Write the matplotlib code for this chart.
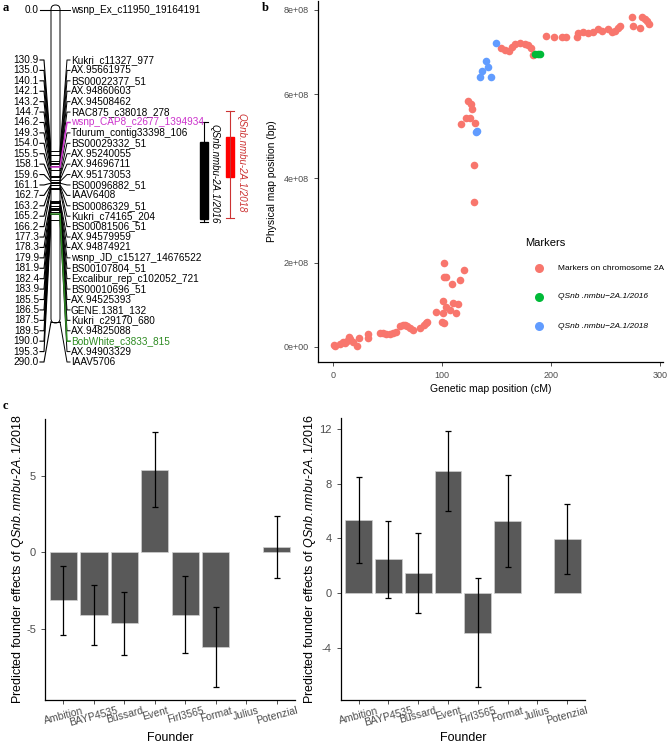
import numpy as np
import matplotlib.pyplot as plt
from matplotlib.lines import Line2D
from matplotlib.patches import FancyBboxPatch, Rectangle

plt.rcParams['font.family'] = ['Liberation Sans', 'DejaVu Sans']
plt.rcParams['mathtext.fontset'] = 'custom'
plt.rcParams['mathtext.rm'] = 'Liberation Sans'
plt.rcParams['mathtext.it'] = 'Liberation Sans:italic'
plt.rcParams['axes.unicode_minus'] = False

W, H = 667, 744

# ---- panel a: linkage map of chromosome 2A ----
marker_pos = [0.0, 130.9, 135.0, 140.1, 142.1, 143.2, 144.7, 146.2, 149.3, 154.0,
              155.5, 158.1, 159.6, 161.1, 162.7, 163.2, 165.2, 166.2, 177.3, 178.3,
              179.9, 181.9, 182.4, 183.9, 185.5, 186.5, 187.5, 189.5, 190.0, 195.3,
              290.0]
marker_names = ["wsnp_Ex_c11950_19164191", "Kukri_c11327_977", "AX.95661975",
                "BS00022377_51", "AX.94860603", "AX.94508462", "RAC875_c38018_278",
                "wsnp_CAP8_c2677_1394934", "Tdurum_contig33398_106", "BS00029332_51",
                "AX.95240055", "AX.94696711", "AX.95173053", "BS00096882_51", "IAAV6408",
                "BS00086329_51", "Kukri_c74165_204", "BS00081506_51", "AX.94579959",
                "AX.94874921", "wsnp_JD_c15127_14676522", "BS00107804_51",
                "Excalibur_rep_c102052_721", "BS00010696_51", "AX.94525393",
                "GENE.1381_132", "Kukri_c29170_680", "AX.94825088", "BobWhite_c3833_815",
                "AX.94903329", "IAAV5706"]
marker_colors = {"wsnp_CAP8_c2677_1394934": "#CC33CC", "BobWhite_c3833_815": "#2E8B22"}
qtl_names = ["QSnb.nmbu-2A.1/2016", "QSnb.nmbu-2A.1/2018"]
qtl_outer = [(104.2, 197.2), (94.0, 193.5)]
qtl_inner = [(122.8, 194.4), (118.1, 155.3)]
qtl_colors = [("black", "black", "black"), ("#FF0000", "#CC3333", "#CC3333")]

# ---- panel b: genetic vs physical position ----
chr_cm = [1, 2, 6, 9, 11, 13, 15, 16, 18.5, 21.7, 24, 32, 32, 43, 46, 49, 52, 55, 58,
          61.5, 64, 66, 68, 70.6, 73, 80, 83, 85, 86, 94.5, 99.7, 101, 101, 102, 104,
          107, 110, 113, 115, 101.5, 102, 104, 109.5, 116.5, 120, 129, 129, 117.7,
          121.7, 125.7, 130, 124, 126.6, 127.8, 153.8, 157.8, 161, 164, 167, 171.5,
          176, 179, 182, 183.8, 195, 203, 210, 214, 223.5, 225, 229.7, 234, 238.6,
          243.4, 247, 252.6, 255.7, 258.5, 261.8, 263, 274, 275.5, 281.6, 283, 286,
          287.8, 289.4]
chr_bp = [0.5e7, 0.3e7, 0.7e7, 1.1e7, 0.9e7, 1.5e7, 2.3e7, 2.0e7, 1.3e7, 0.2e7,
          2.1e7, 3.1e7, 2.1e7, 3.4e7, 3.3e7, 3.0e7, 3.2e7, 3.4e7, 3.6e7, 5.0e7, 5.2e7,
          5.3e7, 5.0e7, 4.5e7, 4.0e7, 4.6e7, 5.2e7, 5.8e7, 6.0e7, 8.3e7, 6.0e7,
          8.0e7, 11.0e7, 5.8e7, 9.6e7, 8.8e7, 10.4e7, 8.0e7, 10.2e7, 19.9e7, 16.7e7,
          16.6e7, 15.0e7, 15.8e7, 18.3e7, 34.3e7, 43.3e7, 52.8e7, 54.4e7, 54.4e7,
          53.1e7, 58.4e7, 57.7e7, 56.4e7, 70.9e7, 70.5e7, 70.3e7, 71.2e7, 72.0e7,
          72.2e7, 72.0e7, 71.7e7, 70.9e7, 69.3e7, 73.8e7, 73.6e7, 73.5e7, 73.6e7,
          73.6e7, 74.6e7, 74.8e7, 74.4e7, 74.8e7, 75.4e7, 74.9e7, 75.4e7, 74.8e7,
          75.0e7, 75.8e7, 76.2e7, 78.2e7, 76.2e7, 75.8e7, 78.2e7, 77.8e7, 77.4e7,
          76.6e7]
q2016_cm = [185.3, 187.6, 189.5]
q2016_bp = [6.95e8, 6.95e8, 6.95e8]
q2018_cm = [131.5, 132.0, 134.9, 136.4, 140.0, 141.9, 144.7, 149.2]
q2018_bp = [5.09e8, 5.12e8, 6.40e8, 6.56e8, 6.79e8, 6.65e8, 6.41e8, 7.22e8]
group_labels = ["Markers on chromosome 2A", "QSnb .nmbu\u22122A.1/2016",
                "QSnb .nmbu\u22122A.1/2018"]
group_colors = ["#F8766D", "#00BA38", "#619CFF"]

# ---- panel c: founder effects ----
founders = ["Ambition", "BAYP4535", "Bussard", "Event", "Firl3565", "Format",
            "Julius", "Potenzial"]
eff_2018 = [-3.12, -4.09, -4.63, 5.39, -4.05, -6.19, np.nan, 0.34]
err_2018 = [2.25, 1.94, 2.07, 2.46, 2.49, 2.61, np.nan, 2.0]
eff_2016 = [5.34, 2.47, 1.47, 8.96, -2.92, 5.27, np.nan, 3.97]
err_2016 = [3.15, 2.80, 2.94, 2.94, 4.0, 3.37, np.nan, 2.57]


def box(left, top, right, bottom):
    return [left / W, 1 - bottom / H, (right - left) / W, (bottom - top) / H]


def fpx(x, y):
    return x / W, 1 - y / H


fig = plt.figure(figsize=(W / 100, H / 100), dpi=100)

# ================= panel a =================
axa = fig.add_axes(box(0, 0, 250, 375))
axa.set_xlim(0, 250)
axa.set_ylim(375, 0)
axa.axis("off")


def cm2y(cm):
    return 10 + 1.075 * cm


label_y = np.concatenate([[10], np.linspace(60, 362, len(marker_pos) - 1)])
axa.add_patch(FancyBboxPatch((51, 5), 9, 318, boxstyle="round,pad=0,rounding_size=4.5",
                             facecolor="white", edgecolor="black", linewidth=0.7, zorder=2))
order = sorted(range(len(marker_pos)), key=lambda i: marker_names[i] in marker_colors)
for i in order:
    pos, name, ly = marker_pos[i], marker_names[i], label_y[i]
    my = cm2y(pos)
    col = marker_colors.get(name, "black")
    lw = 1.1 if name in marker_colors else 0.7
    axa.plot([40, 44, 51], [ly, ly, my], color="black", lw=0.8, zorder=1)
    axa.plot([60, 67, 70], [my, ly, ly], color=col, lw=lw, zorder=3)
    axa.plot([51, 60], [my, my], color=col, lw=lw, zorder=3)
    axa.text(39, ly, f"{pos:.1f}", ha="right", va="center", fontsize=7.2)
    axa.text(71, ly, name, ha="left", va="center", fontsize=7.2, color=col)

for j, name in enumerate(qtl_names):
    xc = 204 + j * 26.5
    fc, wc, tc = qtl_colors[j]
    y0, y1 = cm2y(qtl_outer[j][0]), cm2y(qtl_outer[j][1])
    i0, i1 = cm2y(qtl_inner[j][0]), cm2y(qtl_inner[j][1])
    axa.plot([xc, xc], [y0, y1], color=wc, lw=0.8)
    axa.plot([xc - 4, xc + 4], [y0, y0], color=wc, lw=0.8)
    axa.plot([xc - 4, xc + 4], [y1, y1], color=wc, lw=0.8)
    axa.add_patch(Rectangle((xc - 4, i0), 8, i1 - i0, facecolor=fc, edgecolor=fc))
    axa.text(xc + 6, y0 + 2, name, rotation=-90, ha="left", va="top", fontsize=7,
             color=tc, style="italic")

# ================= panel b =================
axb = fig.add_axes(box(318, 1, 663, 362))
axb.scatter(chr_cm, chr_bp, s=30, color=group_colors[0], linewidths=0, zorder=2)
axb.scatter(q2016_cm, q2016_bp, s=30, color=group_colors[1], linewidths=0, zorder=3)
axb.scatter(q2018_cm, q2018_bp, s=30, color=group_colors[2], linewidths=0, zorder=3)
axb.set_xlim(-13.8, 302.7)
axb.set_ylim(-3.56e7, 8.21e8)
axb.set_xticks([0, 100, 200, 300])
axb.set_yticks([0, 2e8, 4e8, 6e8, 8e8])
axb.set_yticklabels(["0e+00", "2e+08", "4e+08", "6e+08", "8e+08"])
axb.set_xlabel("Genetic map position (cM)", fontsize=7.5, labelpad=3)
axb.set_ylabel("Physical map position (bp)", fontsize=7.5, labelpad=5)

# legend drawn by hand to sit inside the panel
fig.text(*fpx(525, 243), "Markers", fontsize=8, ha="left", va="center")
for k, (lab, col) in enumerate(zip(group_labels, group_colors)):
    yy = 268 + k * 29
    fig.add_artist(Line2D([539 / W], [1 - yy / H], marker="o", markersize=6.5,
                          color=col, markeredgewidth=0, linestyle="none"))
    fig.text(*fpx(558, yy), lab, fontsize=6, ha="left", va="center",
             style="normal" if k == 0 else "italic")

# ================= panel c =================
axl = fig.add_axes(box(45, 419, 295, 700))
axr = fig.add_axes(box(340.7, 418, 585, 700))
xpos = np.arange(len(founders))
for ax, eff, err, yl, yt, year in [(axl, eff_2018, err_2018, (-9.62, 8.69), [-5, 0, 5], "2018"),
                                   (axr, eff_2016, err_2016, (-7.85, 12.84), [-4, 0, 4, 8, 12], "2016")]:
    ax.bar(xpos, eff, width=0.9, color="#595959", edgecolor="#cfcfcf", linewidth=0.5)
    ax.errorbar(xpos, eff, yerr=err, fmt="none", ecolor="black", elinewidth=0.9,
                capsize=2.5, capthick=0.9)
    ax.set_xlim(-0.6, 7.6)
    ax.set_ylim(*yl)
    ax.set_yticks(yt)
    ax.set_xticks(xpos)
    ax.set_xticklabels(founders, rotation=15, fontsize=7.5, color="#4D4D4D")
    ax.tick_params(axis="x", pad=1)
    ax.set_xlabel("Founder", fontsize=9, labelpad=3)
    ax.set_ylabel(r"Predicted founder effects of $\mathit{QSnb.nmbu}$-$\mathit{2A.1/" + year + "}$",
                  fontsize=9)
axl.yaxis.set_label_coords(-0.076, 0.5)
axr.yaxis.set_label_coords(-0.092, 0.5)

for ax in (axb, axl, axr):
    for side in ("top", "right"):
        ax.spines[side].set_visible(False)
    for side in ("left", "bottom"):
        ax.spines[side].set_linewidth(0.9)
    ax.tick_params(length=3, width=0.6, color="#333333", labelcolor="#4D4D4D")
axb.tick_params(labelsize=6.5)
axl.tick_params(axis="y", labelsize=8)
axr.tick_params(axis="y", labelsize=8)

# panel letters
for letter, x, y in [("a", 3, 8), ("b", 262, 8), ("c", 3, 406)]:
    fig.text(*fpx(x, y), letter, fontsize=9, fontweight="bold",
             family="Liberation Serif", ha="left", va="center")

fig.savefig("out.png", dpi=100)
